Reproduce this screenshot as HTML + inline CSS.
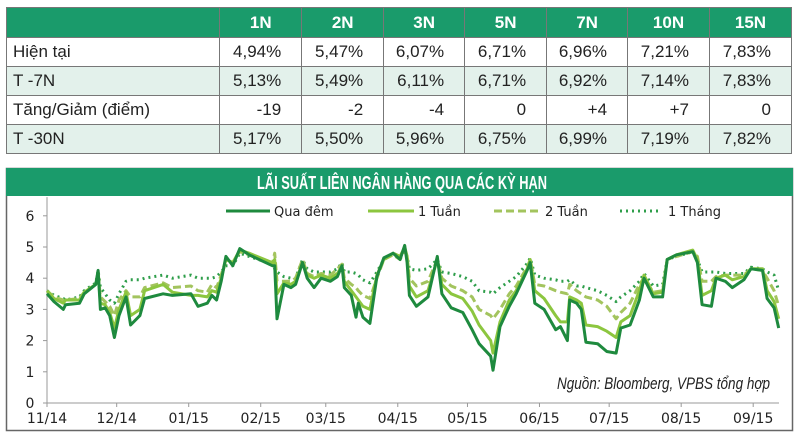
<!DOCTYPE html>
<html><head><meta charset="utf-8">
<style>
html,body{margin:0;padding:0;background:#fff;}
body{width:800px;height:438px;overflow:hidden;position:relative;font-family:"Liberation Sans Narrow","Liberation Sans",sans-serif;}
table{position:absolute;left:6px;top:7px;border-collapse:collapse;width:786px;font-size:17px;color:#222;}
td,th{border:1px solid #777;height:28px;padding:0 6px;}
th{background:#1a9b6b;color:#fff;font-weight:bold;text-align:center;height:29px;}
td.n{text-align:right;padding-right:20px;}
tr.alt td{background:#e3f1eb;}
td.l{text-align:left;}
svg{position:absolute;left:0;top:0;}
</style></head>
<body>
<table>
<colgroup><col style="width:214px"><col style="width:82px"><col style="width:82px"><col style="width:81px"><col style="width:82px"><col style="width:81px"><col style="width:82px"><col style="width:82px"></colgroup>
<tr><th></th><th>1N</th><th>2N</th><th>3N</th><th>5N</th><th>7N</th><th>10N</th><th>15N</th></tr>
<tr><td class="l">Hiện tại</td><td class="n">4,94%</td><td class="n">5,47%</td><td class="n">6,07%</td><td class="n">6,71%</td><td class="n">6,96%</td><td class="n">7,21%</td><td class="n">7,83%</td></tr>
<tr class="alt"><td class="l">T -7N</td><td class="n">5,13%</td><td class="n">5,49%</td><td class="n">6,11%</td><td class="n">6,71%</td><td class="n">6,92%</td><td class="n">7,14%</td><td class="n">7,83%</td></tr>
<tr><td class="l">Tăng/Giảm (điểm)</td><td class="n">-19</td><td class="n">-2</td><td class="n">-4</td><td class="n">0</td><td class="n">+4</td><td class="n">+7</td><td class="n">0</td></tr>
<tr class="alt"><td class="l">T -30N</td><td class="n">5,17%</td><td class="n">5,50%</td><td class="n">5,96%</td><td class="n">6,75%</td><td class="n">6,99%</td><td class="n">7,19%</td><td class="n">7,82%</td></tr>
</table>

<svg id="chart" width="800" height="438">
<rect x="6.5" y="168.5" width="786" height="262" fill="none" stroke="#666" stroke-width="1.5"/>
<rect x="6" y="168" width="787" height="28" fill="#1a9b6b"/>
<text x="257" y="189" textLength="290" lengthAdjust="spacingAndGlyphs" fill="#fff" font-size="18" font-weight="bold" font-family="'Liberation Sans Narrow','Liberation Sans',sans-serif">LÃI SUẤT LIÊN NGÂN HÀNG QUA CÁC KỲ HẠN</text>
<g id="axes"></g>
<g id="series"></g>
<g font-family="'DejaVu Sans',sans-serif" font-size="13" fill="#222">
<line x1="226" y1="211" x2="270" y2="211" stroke="#1e8a3e" stroke-width="3"/>
<text x="274" y="216">Qua đêm</text>
<line x1="368" y1="211" x2="414" y2="211" stroke="#8cc63f" stroke-width="3"/>
<text x="418" y="216">1 Tuần</text>
<line x1="494" y1="211" x2="542" y2="211" stroke="#a3c45e" stroke-width="3" stroke-dasharray="8,4"/>
<text x="545" y="216">2 Tuần</text>
<line x1="620" y1="211" x2="662" y2="211" stroke="#2e9e4a" stroke-width="3" stroke-dasharray="2,4"/>
<text x="668" y="216">1 Tháng</text>
</g>
<text x="557" y="389" textLength="213" lengthAdjust="spacingAndGlyphs" font-style="italic" font-size="17" fill="#222" font-family="'Liberation Sans Narrow','Liberation Sans',sans-serif">Nguồn: Bloomberg, VPBS tổng hợp</text>
</svg>
<script>
const days = [0,3,7,8,14,16,21,22,23,25,27,29,31,34,36,40,42,50,54,62,65,69,71,73,75,77,80,83,87,97,98,99,102,105,107,110,112,115,118,122,125,127,128,131,133,134,136,139,142,145,149,152,154,155,156,159,164,168,170,174,179,183,186,191,192,195,199,202,207,208,210,214,219,221,224,225,228,230,232,237,241,245,247,251,255,257,261,265,267,271,278,280,282,286,288,292,295,300,303,308,310,313,315];
const overnight = [3.5,3.25,3.0,3.15,3.2,3.5,3.8,4.25,3.0,3.05,2.8,2.1,2.8,3.4,2.5,2.8,3.35,3.5,3.45,3.5,3.1,3.2,3.45,3.3,3.9,4.7,4.4,4.95,4.75,4.4,4.4,2.7,3.8,3.7,3.8,4.5,4.0,3.7,4.0,3.9,4.05,4.4,3.7,3.45,2.75,3.2,2.75,2.55,4.05,4.65,4.8,4.6,5.05,4.5,3.45,3.1,3.4,4.7,3.5,3.05,2.9,2.35,1.9,1.5,1.05,2.45,3.1,3.5,4.3,4.5,3.2,3.0,2.35,2.45,2.0,3.3,3.2,3.0,1.95,1.9,1.65,1.6,2.4,2.5,3.3,4.0,3.4,3.4,4.6,4.75,4.85,4.5,3.15,3.1,4.0,3.9,3.7,3.95,4.3,4.25,3.35,3.05,2.4];
const week1 = [3.6,3.35,3.2,3.3,3.3,3.55,3.8,4.2,3.2,3.15,2.9,2.4,3.0,3.55,2.8,3.0,3.6,3.8,3.55,3.45,3.45,3.4,3.6,3.55,4.0,4.6,4.5,4.9,4.8,4.5,4.6,3.5,3.85,3.8,3.9,4.5,4.1,4.0,4.1,4.0,4.15,4.4,3.9,3.6,3.4,3.3,3.1,3.0,4.1,4.6,4.8,4.7,5.0,4.7,3.75,3.4,3.6,4.6,3.8,3.5,3.35,2.95,2.5,2.0,1.6,2.6,3.3,3.6,4.35,4.6,3.6,3.35,2.8,2.6,2.6,3.4,3.3,3.2,2.5,2.45,2.3,2.1,2.6,2.8,3.6,4.1,3.5,3.55,4.6,4.75,4.9,4.6,3.45,3.6,4.0,4.1,3.95,4.05,4.3,4.3,3.6,3.25,2.7];
const week2 = [3.6,3.4,3.3,3.3,3.35,3.55,3.8,4.2,3.4,3.25,3.1,2.8,3.3,3.6,3.4,3.4,3.7,3.85,3.7,3.75,3.6,3.55,3.8,3.7,4.1,4.6,4.5,4.85,4.75,4.45,4.8,3.9,3.9,3.9,4.0,4.6,4.15,4.05,4.15,4.1,4.3,4.45,4.0,3.8,3.7,3.6,3.45,3.35,4.0,4.6,4.75,4.6,4.9,4.7,4.0,3.75,3.9,4.6,4.0,3.75,3.6,3.4,3.0,2.8,2.7,3.0,3.5,3.75,4.4,4.6,3.8,3.75,3.6,3.55,3.5,3.8,3.6,3.5,3.4,3.3,3.1,2.7,2.9,3.2,3.8,4.0,3.55,3.6,4.6,4.7,4.85,4.7,3.9,3.9,4.05,4.1,4.1,4.1,4.3,4.25,4.0,3.6,3.1];
const month1 = [3.6,3.45,3.35,3.3,3.4,3.6,3.85,4.25,3.7,3.5,3.3,3.2,3.5,3.9,3.95,3.95,4.0,4.1,4.0,4.1,4.0,4.0,4.0,4.05,4.2,4.4,4.4,4.8,4.7,4.45,4.3,4.2,4.05,4.0,4.0,4.6,4.3,4.2,4.2,4.2,4.3,4.5,4.2,4.2,4.15,4.1,3.95,3.85,4.2,4.6,4.8,4.7,4.9,4.7,4.3,4.25,4.3,4.6,4.2,4.15,4.05,3.9,3.6,3.55,3.5,3.7,3.9,4.05,4.5,4.65,4.1,4.0,3.95,3.9,3.9,3.95,3.75,3.75,3.7,3.6,3.45,3.25,3.4,3.6,3.9,4.15,3.75,3.8,4.6,4.7,4.85,4.6,4.2,4.2,4.2,4.15,4.15,4.15,4.35,4.3,4.2,4.1,3.6];
const yTicks = [0,1,2,3,4,5,6];
const monthDays = [0,30,61,92,120,151,181,212,242,273,304];
const monthLabels = ["11/14","12/14","01/15","02/15","03/15","04/15","05/15","06/15","07/15","08/15","09/15"];

const NS="http://www.w3.org/2000/svg";
function xs(d){return 47+d*2.323;}
function ys(v){return 403-v*31.2;}
const axes=document.getElementById('axes');
function mk(tag,attrs,parent){const e=document.createElementNS(NS,tag);for(const k in attrs)e.setAttribute(k,attrs[k]);parent.appendChild(e);return e;}

const yAxis=mk('line',{x1:47,y1:ys(6.6),x2:47,y2:ys(0),stroke:'#999','stroke-width':1},axes);


const xAxis=mk('line',{x1:47,y1:ys(0),x2:779,y2:ys(0),stroke:'#999','stroke-width':1},axes);


yTicks.forEach(v=>{
  const t=mk('line',{x1:43,y1:ys(v),x2:47,y2:ys(v),stroke:'#999'},axes);
  
  
  const l=mk('text',{x:30,y:ys(v)+5,'text-anchor':'middle','font-size':14,'font-family':"'DejaVu Sans',sans-serif",fill:'#222'},axes);
  l.textContent=v;
  
  
});
monthDays.forEach((d,i)=>{
  const t=mk('line',{x1:xs(d),y1:ys(0),x2:xs(d),y2:ys(0)+4,stroke:'#999'},axes);
  
  
  const l=mk('text',{x:xs(d),y:423,'text-anchor':'middle','font-size':14,'font-family':"'DejaVu Sans',sans-serif",fill:'#222'},axes);
  l.textContent=monthLabels[i];
  
  
});
const series=document.getElementById('series');
function draw(vals,color,dash,name){
  const pts=days.map((d,i)=>xs(d).toFixed(1)+','+ys(vals[i]).toFixed(1)).join(' ');
  const p=mk('polyline',{points:pts,fill:'none',stroke:color,'stroke-width':3,'stroke-linejoin':'round'},series);
  if(dash)p.setAttribute('stroke-dasharray',dash);
  
  
}
draw(month1,'#2e9e4a','2,4','line-1-thang');
draw(week2,'#a3c45e','8,4','line-2-tuan');
draw(week1,'#8cc63f',null,'line-1-tuan');
draw(overnight,'#1e8a3e',null,'line-qua-dem');
</script>
</body></html>
